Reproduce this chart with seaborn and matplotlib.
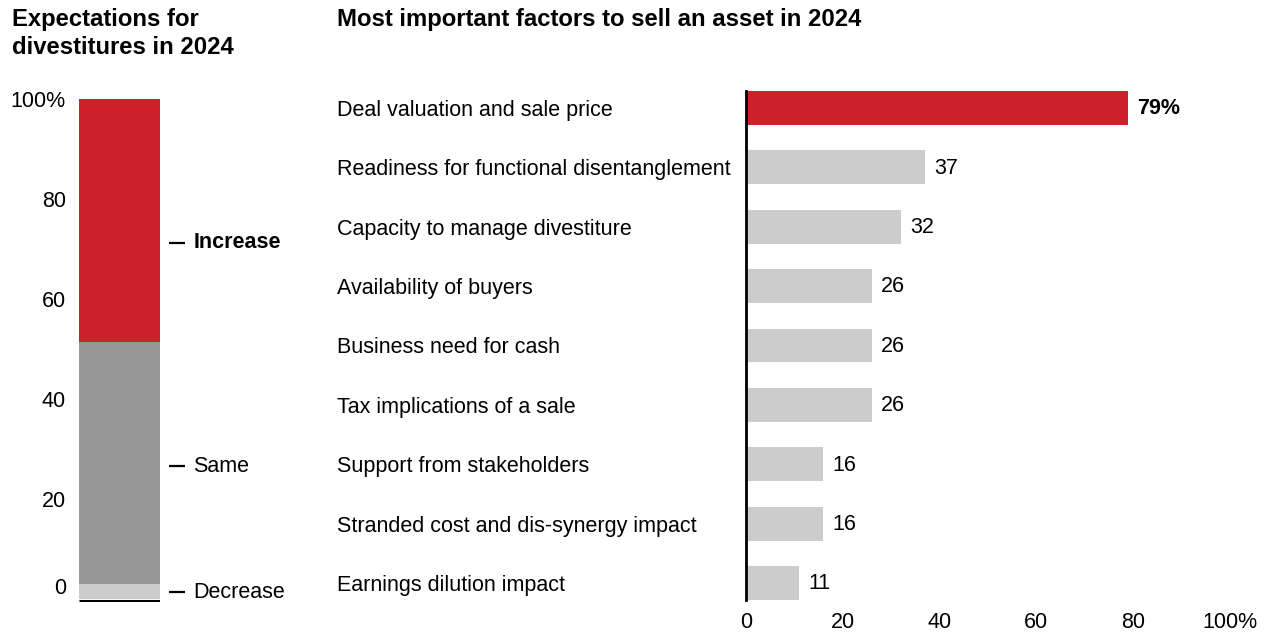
import matplotlib
matplotlib.use("Agg")
import matplotlib.pyplot as plt
import matplotlib.transforms as mtransforms
import pandas as pd
import seaborn as sns

# --- data -----------------------------------------------------------------
expectation_labels = ["Increase", "Same", "Decrease"]
expectation_values = [48.5, 48.5, 3]          # percent of respondents

factor_labels = [
    "Deal valuation and sale price",
    "Readiness for functional disentanglement",
    "Capacity to manage divestiture",
    "Availability of buyers",
    "Business need for cash",
    "Tax implications of a sale",
    "Support from stakeholders",
    "Stranded cost and dis-synergy impact",
    "Earnings dilution impact",
]
factor_values = [79, 37, 32, 26, 26, 26, 16, 16, 11]

axis_ticks = [0, 20, 40, 60, 80, 100]
axis_tick_labels = ["0", "20", "40", "60", "80", "100%"]

# --- style ----------------------------------------------------------------
RED = "#CC2129"
MID_GREY = "#999999"
LIGHT_GREY = "#CCCCCC"
INK = "#000000"
FS = 15.5
TITLE_FS = 17.2

sns.set_theme(style="white")
plt.rcParams["font.family"] = ["Liberation Sans", "DejaVu Sans"]

W, H = 1267, 632
fig = plt.figure(figsize=(W / 100, H / 100), dpi=100)


def px_rect(x0, y0, x1, y1):
    """Axes rectangle from pixel corners (top-left origin)."""
    return [x0 / W, 1 - y1 / H, (x1 - x0) / W, (y1 - y0) / H]


# --- left: stacked expectations bar -----------------------------------------
ax1 = fig.add_axes(px_rect(79, 99, 160, 602))
seg_colors = {"Increase": RED, "Same": MID_GREY, "Decrease": LIGHT_GREY}

# stack from the bottom: Decrease, Same, Increase
order = list(reversed(expectation_labels))
tops, running = {}, 0
for lab in order:
    running += expectation_values[expectation_labels.index(lab)]
    tops[lab] = running
# draw tallest first so shorter segments sit on top
for lab in sorted(tops, key=lambda k: -tops[k]):
    sns.barplot(x=[0], y=[tops[lab]], color=seg_colors[lab], width=1.0,
                saturation=1, linewidth=0, edgecolor="none", ax=ax1)

ax1.set_xlim(-0.5, 0.5)
ax1.set_ylim(-0.6, 100)
ax1.axhline(-0.3, color=INK, lw=2.2, solid_capstyle="butt")
for s in ax1.spines.values():
    s.set_visible(False)
ax1.set_xticks([])
ax1.set_xlabel("")
ax1.set_ylabel("")
ax1.set_yticks(axis_ticks)
ax1.set_yticklabels(axis_tick_labels, fontsize=FS, color=INK)
ax1.tick_params(axis="y", length=0, pad=9.4)
# lift the zero label off the baseline
zero_lbl = ax1.get_yticklabels()[0]
zero_lbl.set_transform(zero_lbl.get_transform() +
                       mtransforms.ScaledTranslation(0, 13 / 100, fig.dpi_scale_trans))

# segment call-outs
callout_y = {"Increase": 71.2, "Same": 26.6, "Decrease": 1.4}
blend = mtransforms.blended_transform_factory(ax1.transAxes, ax1.transData)
for lab in expectation_labels:
    y = callout_y[lab]
    ax1.plot([1.111, 1.309], [y, y], color=INK, lw=1.6, transform=blend,
             clip_on=False, solid_capstyle="butt")
    ax1.text(1.41, y, lab, transform=blend, ha="left", va="center",
             fontsize=FS, color=INK,
             fontweight="bold" if lab == "Increase" else "normal")

# --- right: factor bars ----------------------------------------------------
BAR_H = 0.57
ax2 = fig.add_axes(px_rect(746, 91, 1230, 600))
df = pd.DataFrame({"factor": factor_labels, "value": factor_values})
palette = [RED] + [LIGHT_GREY] * (len(factor_labels) - 1)
sns.barplot(data=df, y="factor", x="value", hue="factor", palette=palette,
            legend=False, width=BAR_H, saturation=1, orient="h",
            linewidth=0, edgecolor="none", ax=ax2)

ax2.set_xlim(0, 100)
ax2.set_ylim(len(factor_labels) - 1 + BAR_H / 2, -BAR_H / 2)
for name, s in ax2.spines.items():
    s.set_visible(name == "left")
ax2.spines["left"].set_color(INK)
ax2.spines["left"].set_linewidth(2.0)
ax2.set_xlabel("")
ax2.set_ylabel("")
ax2.set_xticks(axis_ticks)
ax2.set_xticklabels(axis_tick_labels, fontsize=FS, color=INK)
ax2.tick_params(axis="x", length=0, pad=9.0)
ax2.set_yticks(range(len(factor_labels)))
ax2.set_yticklabels(factor_labels, fontsize=FS, color=INK, ha="left")
ax2.tick_params(axis="y", length=0, pad=(746 - 337) * 0.72)

for i, v in enumerate(factor_values):
    first = i == 0
    ax2.annotate(f"{v}%" if first else f"{v}", xy=(v, i), xytext=(6.5, -0.6),
                 textcoords="offset points", ha="left", va="center",
                 fontsize=FS, color=INK,
                 fontweight="bold" if first else "normal")

# --- titles ----------------------------------------------------------------
for k, line in enumerate(["Expectations for", "divestitures in 2024"]):
    fig.text(12 / W, 1 - (26 + 28 * k) / H, line, ha="left", va="baseline",
             fontsize=TITLE_FS, fontweight="bold", color=INK)
fig.text(337 / W, 1 - 26 / H, "Most important factors to sell an asset in 2024",
         ha="left", va="baseline", fontsize=TITLE_FS, fontweight="bold",
         color=INK)

fig.savefig("out.png", dpi=100, facecolor="white")
